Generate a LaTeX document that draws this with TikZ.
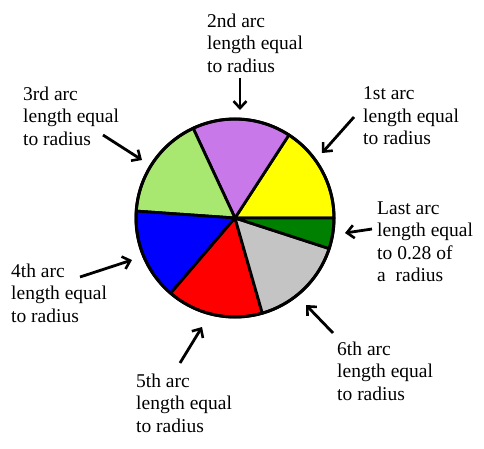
\documentclass[tikz,border=0pt]{standalone}
\usepackage{fontspec}
\setmainfont{Liberation Serif}
\usepackage{xcolor}
\usetikzlibrary{arrows.meta,positioning,calc}
\definecolor{radianYellow}{HTML}{FFFF00}
\definecolor{radianPurple}{HTML}{C878E8}
\definecolor{radianLime}{HTML}{A8E870}
\definecolor{radianBlue}{HTML}{0000FF}
\definecolor{radianRed}{HTML}{FF0000}
\definecolor{radianGrey}{HTML}{C4C4C4}
\definecolor{radianGreen}{HTML}{008000}
\newcommand{\pieR}{99}
\tikzset{
  arcLabel/.style={
    anchor=north west,
    inner sep=0pt,
    align=left,
    font=\fontsize{19.5}{22.5}\selectfont
  },
  pointer/.style={
    -{Straight Barb[length=7pt,width=13pt,line width=2.6pt]},
    line width=2.8pt,
    draw=black
  },
  wedge/.style={
    draw=black,
    line width=2.8pt,
    line join=round
  }
}

\begin{document}
\begin{tikzpicture}[x=1pt,y=1pt]
  \useasboundingbox (0,0) rectangle (484,448);
  \coordinate (centre) at (235,230);
  % the seven arcs, counter-clockwise from the east
  \foreach \a/\b/\c in {0/57/radianYellow,57/115/radianPurple,115/176/radianLime,
                        176/229.5/radianBlue,229.5/286/radianRed,286/342/radianGrey,342/360/radianGreen}{
    \filldraw[wedge,fill=\c] (centre) -- ++(\a:\pieR) arc[start angle=\a,end angle=\b,radius=\pieR] -- cycle;
  }
  \draw[line width=3pt] (centre) circle[radius=\pieR];

  \node[arcLabel] (lbl1) at (363,361.5) {1st arc\\length equal\\to radius};
  \node[arcLabel] (lbl2) at (207,434.5) {2nd arc\\length equal\\to radius};
  \node[arcLabel] (lbl3) at (23,361.5) {3rd arc\\length equal\\to radius};
  \node[arcLabel] (lbl4) at (11,184.5) {4th arc\\length equal\\to radius};
  \node[arcLabel] (lbl5) at (136,74.5) {5th arc\\length equal\\to radius};
  \node[arcLabel] (lbl6) at (337,106.5) {6th arc\\length equal\\to radius};
  \node[arcLabel] (lblLast) at (377,246.5) {Last arc\\length equal\\to 0.28 of\\a~~radius};

  \coordinate (tail1) at (354,331);  \coordinate (tip1) at (322,295);
  \coordinate (tail2) at (240,370);  \coordinate (tip2) at (240,338);
  \coordinate (tail3) at (103,313);  \coordinate (tip3) at (142,288);
  \coordinate (tail4) at (80,171);   \coordinate (tip4) at (132,188);
  \coordinate (tail5) at (180,85);   \coordinate (tip5) at (202,121);
  \coordinate (tail6) at (333,115);  \coordinate (tip6) at (306,143);
  \coordinate (tailLast) at (372,219); \coordinate (tipLast) at (345,215);
  \foreach \k in {1,2,3,4,5,6,Last}
    \draw[pointer] (tail\k) -- (tip\k);
\end{tikzpicture}
\end{document}
